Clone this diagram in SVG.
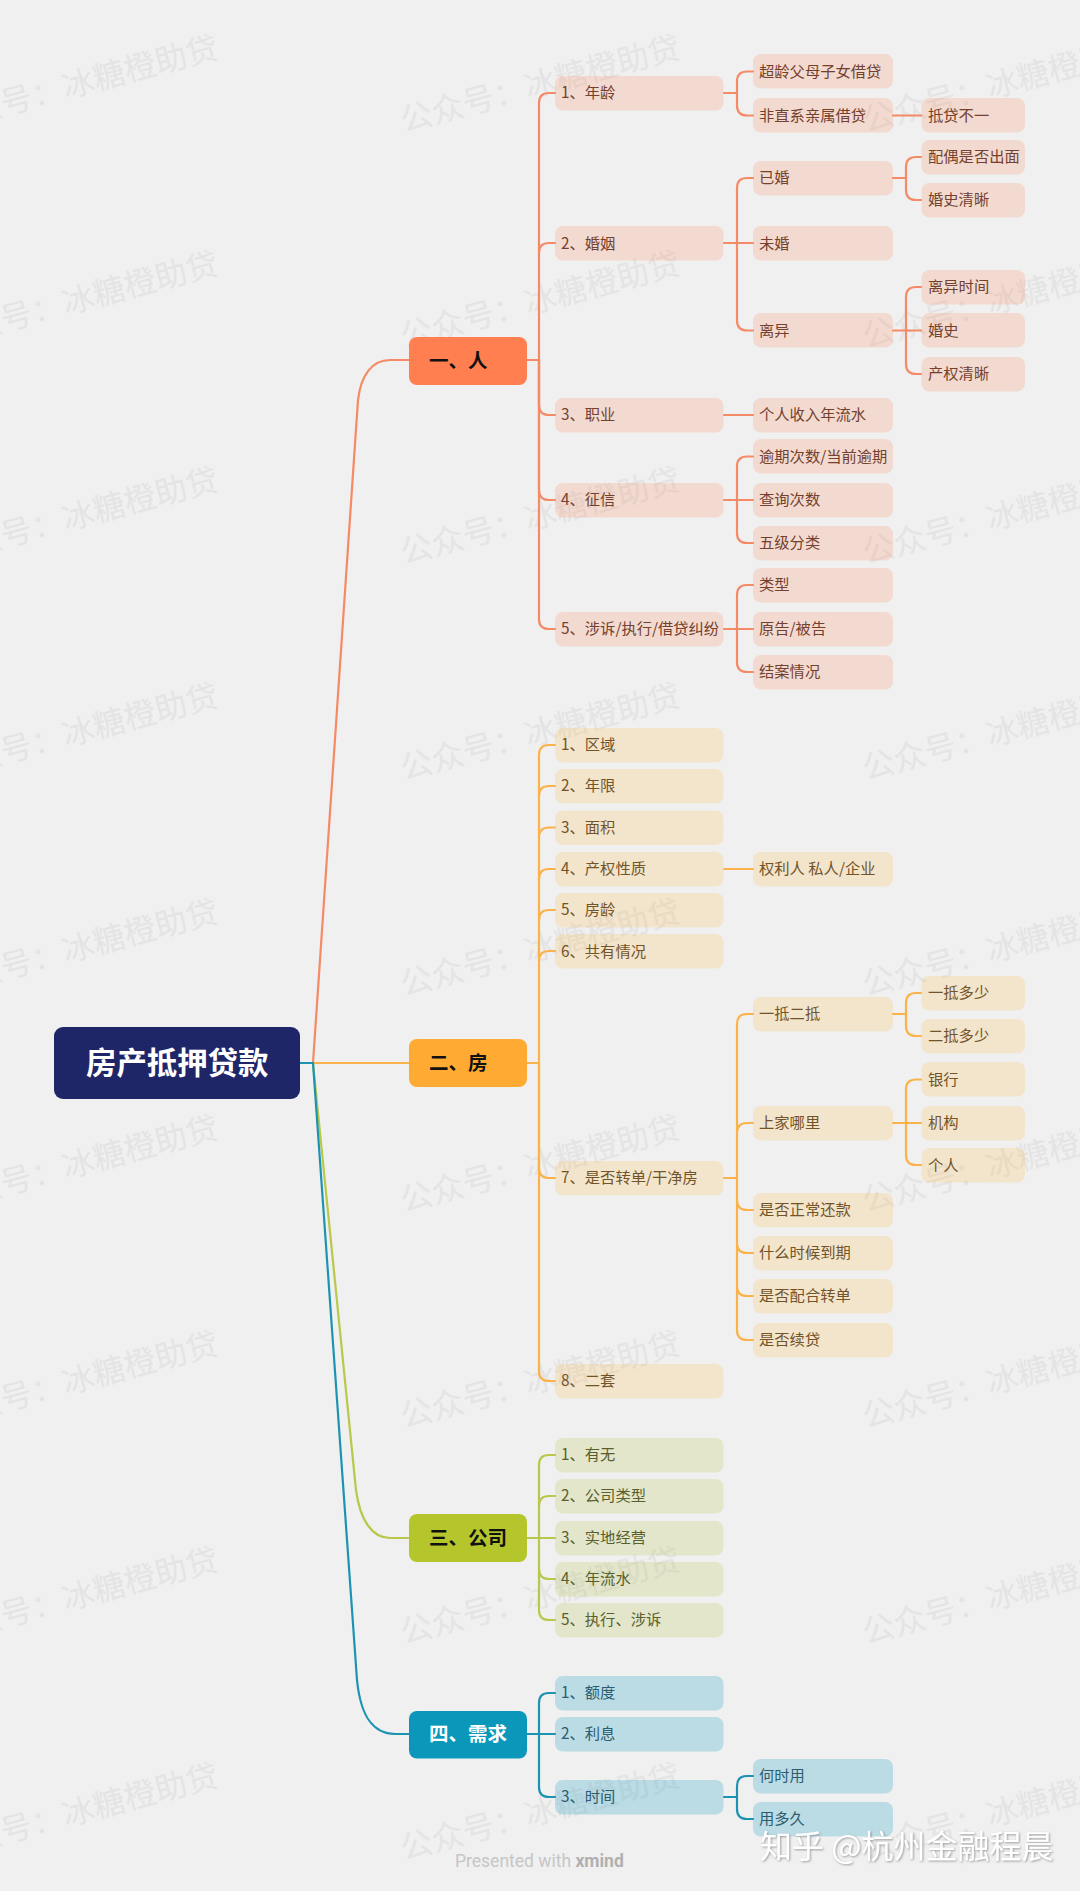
<svg xmlns="http://www.w3.org/2000/svg" width="1080" height="1891" viewBox="0 0 1080 1891">
<style>
text{font-family:"Noto Sans CJK SC","Noto Sans",sans-serif}
.wm{font-size:32px;fill:#e4e4e4}
.c{fill:none;stroke-width:2.2;stroke-linecap:round}
.c1{stroke:#f58a66}.c2{stroke:#fbb24a}.c3{stroke:#b9c84a}.c4{stroke:#1d93b2}
.r{width:140px;height:34.5px;rx:8px}
.l2{width:168.5px}.l3{width:140px}.l4{width:103.5px}
.a1{fill:#ff8250;fill-opacity:.2}.a2{fill:#ffb43c;fill-opacity:.2}.a3{fill:#afbe37;fill-opacity:.2}.a4{fill:#1c9cc4;fill-opacity:.25}
.t{font-size:15.300px}
.t1{fill:#74412e}.t2{fill:#725428}.t3{fill:#585f2c}.t4{fill:#2b5e6f}
.top{font-size:19.500px;font-weight:700;fill:#111}
</style>
<defs><filter id="soft" x="-5%" y="-20%" width="110%" height="140%"><feDropShadow dx="1" dy="1" stdDeviation="1" flood-color="#777" flood-opacity=".7"/></filter></defs>
<rect width="1080" height="1891" fill="#f0f0f0"/>
<g id="watermarks" class="wm">
<text transform="translate(-58 132) rotate(-15)">公众号：冰糖橙助贷</text><text transform="translate(404 132) rotate(-15)">公众号：冰糖橙助贷</text><text transform="translate(866 132) rotate(-15)">公众号：冰糖橙助贷</text>
<text transform="translate(-58 348) rotate(-15)">公众号：冰糖橙助贷</text><text transform="translate(404 348) rotate(-15)">公众号：冰糖橙助贷</text><text transform="translate(866 348) rotate(-15)">公众号：冰糖橙助贷</text>
<text transform="translate(-58 564) rotate(-15)">公众号：冰糖橙助贷</text><text transform="translate(404 564) rotate(-15)">公众号：冰糖橙助贷</text><text transform="translate(866 564) rotate(-15)">公众号：冰糖橙助贷</text>
<text transform="translate(-58 780) rotate(-15)">公众号：冰糖橙助贷</text><text transform="translate(404 780) rotate(-15)">公众号：冰糖橙助贷</text><text transform="translate(866 780) rotate(-15)">公众号：冰糖橙助贷</text>
<text transform="translate(-58 996) rotate(-15)">公众号：冰糖橙助贷</text><text transform="translate(404 996) rotate(-15)">公众号：冰糖橙助贷</text><text transform="translate(866 996) rotate(-15)">公众号：冰糖橙助贷</text>
<text transform="translate(-58 1212) rotate(-15)">公众号：冰糖橙助贷</text><text transform="translate(404 1212) rotate(-15)">公众号：冰糖橙助贷</text><text transform="translate(866 1212) rotate(-15)">公众号：冰糖橙助贷</text>
<text transform="translate(-58 1428) rotate(-15)">公众号：冰糖橙助贷</text><text transform="translate(404 1428) rotate(-15)">公众号：冰糖橙助贷</text><text transform="translate(866 1428) rotate(-15)">公众号：冰糖橙助贷</text>
<text transform="translate(-58 1644) rotate(-15)">公众号：冰糖橙助贷</text><text transform="translate(404 1644) rotate(-15)">公众号：冰糖橙助贷</text><text transform="translate(866 1644) rotate(-15)">公众号：冰糖橙助贷</text>
<text transform="translate(-58 1860) rotate(-15)">公众号：冰糖橙助贷</text><text transform="translate(404 1860) rotate(-15)">公众号：冰糖橙助贷</text><text transform="translate(866 1860) rotate(-15)">公众号：冰糖橙助贷</text>
</g>
<g id="connectors">
<path class="c c1" d="M300 1063H313L358 400C361 375 372 360 390 360H409"/>
<path class="c c2" d="M300 1063H409"/>
<path class="c c3" d="M300 1063H313L356 1490C360 1520 372 1538 390 1538H409"/>
<path class="c c4" d="M300 1063H313L357 1680C361 1720 375 1734 395 1734H409"/>
<g class="c c1">
<path d="M527 360H539"/>
<path d="M539 360V103Q539 93 549 93H555"/>
<path d="M539 253Q539 243 549 243H555"/>
<path d="M539 360V405Q539 415 549 415H555"/>
<path d="M539 360V490Q539 500 549 500H555"/>
<path d="M539 360V619Q539 629 549 629H555"/>
<path d="M724 93H737M737 93V81.500Q737 71.500 747 71.500H753M737 93V105.500Q737 115.500 747 115.500H753"/>
<path d="M893 115.500H921"/>
<path d="M724 243H753M737 243V188Q737 178 747 178H753M737 243V320.500Q737 330.500 747 330.500H753"/>
<path d="M893 178H906M906 178V167Q906 157 916 157H921M906 178V190Q906 200 916 200H921"/>
<path d="M893 330.500H921M906 330.500V297Q906 287 916 287H921M906 330.500V364Q906 374 916 374H921"/>
<path d="M724 415H753"/>
<path d="M724 500H753M737 500V466.500Q737 456.500 747 456.500H753M737 500V533Q737 543 747 543H753"/>
<path d="M724 629H753M737 629V595Q737 585 747 585H753M737 629V662Q737 672 747 672H753"/>
</g>
<g class="c c2">
<path d="M527 1063H539"/>
<path d="M539 1063V755Q539 745 549 745H555"/>
<path d="M539 796Q539 786 549 786H555"/>
<path d="M539 837.500Q539 827.500 549 827.500H555"/>
<path d="M539 879Q539 869 549 869H555"/>
<path d="M539 920Q539 910 549 910H555"/>
<path d="M539 961Q539 951 549 951H555"/>
<path d="M539 1063V1168Q539 1178 549 1178H555"/>
<path d="M539 1063V1371Q539 1381 549 1381H555"/>
<path d="M724 869H753"/>
<path d="M724 1178H737M737 1178V1024Q737 1014 747 1014H753M737 1133Q737 1123 747 1123H753M737 1178V1330Q737 1340 747 1340H753M737 1200Q737 1210 747 1210H753M737 1243Q737 1253 747 1253H753M737 1286Q737 1296 747 1296H753"/>
<path d="M893 1014H906M906 1014V1003Q906 993 916 993H921M906 1014V1026Q906 1036 916 1036H921"/>
<path d="M893 1123H921M906 1123V1089.500Q906 1079.500 916 1079.500H921M906 1123V1155Q906 1165 916 1165H921"/>
</g>
<g class="c c3">
<path d="M527 1538H555"/>
<path d="M539 1538V1465Q539 1455 549 1455H555"/>
<path d="M539 1506Q539 1496 549 1496H555"/>
<path d="M539 1569Q539 1579 549 1579H555"/>
<path d="M539 1538V1610Q539 1620 549 1620H555"/>
</g>
<g class="c c4">
<path d="M527 1734H555"/>
<path d="M539 1734V1703Q539 1693 549 1693H555"/>
<path d="M539 1734V1787Q539 1797 549 1797H555"/>
<path d="M724 1797H737M737 1797V1786Q737 1776 747 1776H753M737 1797V1809Q737 1819 747 1819H753"/>
</g>
</g>
<g id="root"><rect x="54" y="1027" width="246" height="72" rx="9" fill="#1f2668"/><text x="86" y="1074" font-size="30.400" font-weight="700" fill="#fff">房产抵押贷款</text></g>
<g id="b1"><rect x="409" y="337" width="118" height="48" rx="8" fill="#ff7f50"/><text class="top" x="429" y="368">一、人</text></g>
<g id="b2"><rect x="409" y="1039" width="118" height="48" rx="8" fill="#ffaa33"/><text class="top" x="429" y="1070">二、房</text></g>
<g id="b3"><rect x="409" y="1514" width="118" height="48" rx="8" fill="#b5c62c"/><text class="top" x="429" y="1545">三、公司</text></g>
<g id="b4"><rect x="409" y="1711" width="118" height="47.500" rx="8" fill="#0a97ba"/><text class="top" x="429" y="1741" style="fill:#fff">四、需求</text></g>
<g id="n1"><rect class="r l2 a1" x="555" y="76"/><text class="t t1" x="561" y="98">1、年龄</text></g>
<g id="n2"><rect class="r l3 a1" x="753" y="54"/><text class="t t1" x="759" y="77">超龄父母子女借贷</text></g>
<g id="n3"><rect class="r l3 a1" x="753" y="98"/><text class="t t1" x="759" y="121">非直系亲属借贷</text></g>
<g id="n4"><rect class="r l4 a1" x="921.500" y="98"/><text class="t t1" x="928" y="121">抵贷不一</text></g>
<g id="n5"><rect class="r l2 a1" x="555" y="226"/><text class="t t1" x="561" y="249">2、婚姻</text></g>
<g id="n6"><rect class="r l3 a1" x="753" y="161"/><text class="t t1" x="759" y="183">已婚</text></g>
<g id="n7"><rect class="r l4 a1" x="921.500" y="140"/><text class="t t1" x="928" y="162">配偶是否出面</text></g>
<g id="n8"><rect class="r l4 a1" x="921.500" y="183"/><text class="t t1" x="928" y="205">婚史清晰</text></g>
<g id="n9"><rect class="r l3 a1" x="753" y="226"/><text class="t t1" x="759" y="249">未婚</text></g>
<g id="n10"><rect class="r l3 a1" x="753" y="313"/><text class="t t1" x="759" y="336">离异</text></g>
<g id="n11"><rect class="r l4 a1" x="921.500" y="270"/><text class="t t1" x="928" y="292">离异时间</text></g>
<g id="n12"><rect class="r l4 a1" x="921.500" y="313"/><text class="t t1" x="928" y="336">婚史</text></g>
<g id="n13"><rect class="r l4 a1" x="921.500" y="357"/><text class="t t1" x="928" y="379">产权清晰</text></g>
<g id="n14"><rect class="r l2 a1" x="555" y="398"/><text class="t t1" x="561" y="420">3、职业</text></g>
<g id="n15"><rect class="r l3 a1" x="753" y="398"/><text class="t t1" x="759" y="420">个人收入年流水</text></g>
<g id="n16"><rect class="r l2 a1" x="555" y="483"/><text class="t t1" x="561" y="505">4、征信</text></g>
<g id="n17"><rect class="r l3 a1" x="753" y="439"/><text class="t t1" x="759" y="462">逾期次数/当前逾期</text></g>
<g id="n18"><rect class="r l3 a1" x="753" y="483"/><text class="t t1" x="759" y="505">查询次数</text></g>
<g id="n19"><rect class="r l3 a1" x="753" y="526"/><text class="t t1" x="759" y="548">五级分类</text></g>
<g id="n20"><rect class="r l2 a1" x="555" y="612"/><text class="t t1" x="561" y="634">5、涉诉/执行/借贷纠纷</text></g>
<g id="n21"><rect class="r l3 a1" x="753" y="568"/><text class="t t1" x="759" y="590">类型</text></g>
<g id="n22"><rect class="r l3 a1" x="753" y="612"/><text class="t t1" x="759" y="634">原告/被告</text></g>
<g id="n23"><rect class="r l3 a1" x="753" y="655"/><text class="t t1" x="759" y="677">结案情况</text></g>
<g id="n24"><rect class="r l2 a2" x="555" y="728"/><text class="t t2" x="561" y="750">1、区域</text></g>
<g id="n25"><rect class="r l2 a2" x="555" y="769"/><text class="t t2" x="561" y="791">2、年限</text></g>
<g id="n26"><rect class="r l2 a2" x="555" y="810.500"/><text class="t t2" x="561" y="833">3、面积</text></g>
<g id="n27"><rect class="r l2 a2" x="555" y="852"/><text class="t t2" x="561" y="874">4、产权性质</text></g>
<g id="n28"><rect class="r l3 a2" x="753" y="852"/><text class="t t2" x="759" y="874">权利人 私人/企业</text></g>
<g id="n29"><rect class="r l2 a2" x="555" y="893"/><text class="t t2" x="561" y="915">5、房龄</text></g>
<g id="n30"><rect class="r l2 a2" x="555" y="934"/><text class="t t2" x="561" y="957">6、共有情况</text></g>
<g id="n31"><rect class="r l2 a2" x="555" y="1161"/><text class="t t2" x="561" y="1183">7、是否转单/干净房</text></g>
<g id="n32"><rect class="r l3 a2" x="753" y="997"/><text class="t t2" x="759" y="1019">一抵二抵</text></g>
<g id="n33"><rect class="r l4 a2" x="921.500" y="976"/><text class="t t2" x="928" y="998">一抵多少</text></g>
<g id="n34"><rect class="r l4 a2" x="921.500" y="1019"/><text class="t t2" x="928" y="1041">二抵多少</text></g>
<g id="n35"><rect class="r l3 a2" x="753" y="1106"/><text class="t t2" x="759" y="1128">上家哪里</text></g>
<g id="n36"><rect class="r l4 a2" x="921.500" y="1062"/><text class="t t2" x="928" y="1085">银行</text></g>
<g id="n37"><rect class="r l4 a2" x="921.500" y="1106"/><text class="t t2" x="928" y="1128">机构</text></g>
<g id="n38"><rect class="r l4 a2" x="921.500" y="1148"/><text class="t t2" x="928" y="1171">个人</text></g>
<g id="n39"><rect class="r l3 a2" x="753" y="1193"/><text class="t t2" x="759" y="1215">是否正常还款</text></g>
<g id="n40"><rect class="r l3 a2" x="753" y="1236"/><text class="t t2" x="759" y="1258">什么时候到期</text></g>
<g id="n41"><rect class="r l3 a2" x="753" y="1279"/><text class="t t2" x="759" y="1301">是否配合转单</text></g>
<g id="n42"><rect class="r l3 a2" x="753" y="1323"/><text class="t t2" x="759" y="1345">是否续贷</text></g>
<g id="n43"><rect class="r l2 a2" x="555" y="1364"/><text class="t t2" x="561" y="1386">8、二套</text></g>
<g id="n44"><rect class="r l2 a3" x="555" y="1438"/><text class="t t3" x="561" y="1460">1、有无</text></g>
<g id="n45"><rect class="r l2 a3" x="555" y="1479"/><text class="t t3" x="561" y="1501">2、公司类型</text></g>
<g id="n46"><rect class="r l2 a3" x="555" y="1521"/><text class="t t3" x="561" y="1543">3、实地经营</text></g>
<g id="n47"><rect class="r l2 a3" x="555" y="1562"/><text class="t t3" x="561" y="1584">4、年流水</text></g>
<g id="n48"><rect class="r l2 a3" x="555" y="1603"/><text class="t t3" x="561" y="1625">5、执行、涉诉</text></g>
<g id="n49"><rect class="r l2 a4" x="555" y="1676"/><text class="t t4" x="561" y="1698">1、额度</text></g>
<g id="n50"><rect class="r l2 a4" x="555" y="1717"/><text class="t t4" x="561" y="1739">2、利息</text></g>
<g id="n51"><rect class="r l2 a4" x="555" y="1780"/><text class="t t4" x="561" y="1802">3、时间</text></g>
<g id="n52"><rect class="r l3 a4" x="753" y="1759"/><text class="t t4" x="759" y="1781">何时用</text></g>
<g id="n53"><rect class="r l3 a4" x="753" y="1802"/><text class="t t4" x="759" y="1824">用多久</text></g>
<text x="455" y="1867" font-size="17.500" fill="#c6c6c6" style="font-family:Roboto,sans-serif">Presented with <tspan font-weight="700" fill="#b0b0b0">xmind</tspan></text>
<text x="760" y="1858" font-size="32" fill="#fff" filter="url(#soft)">知乎 @杭州金融程晨</text>
</svg>
